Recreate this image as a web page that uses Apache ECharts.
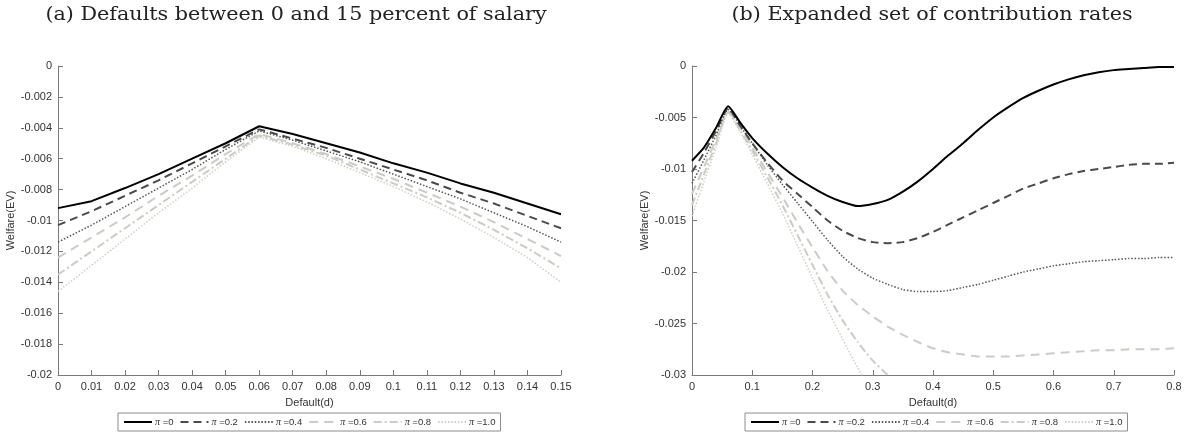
<!DOCTYPE html>
<html>
<head>
<meta charset="utf-8">
<script src="https://cdn.jsdelivr.net/npm/echarts@6/dist/echarts.min.js"></script>
<style>html,body{margin:0;padding:0;background:#fff}#c{width:1190px;height:438px}</style>
</head>
<body>
<div id="c"></div>
<script>
// ---------- data ----------
const titleA = '(a) Defaults between 0 and 15 percent of salary';
const titleB = '(b) Expanded set of contribution rates';
const seriesNames = ['π =0', 'π =0.2', 'π =0.4', 'π =0.6', 'π =0.8', 'π =1.0'];

const leftX = [0, 0.01, 0.02, 0.03, 0.04, 0.05, 0.06, 0.07, 0.08, 0.09, 0.10, 0.11, 0.12, 0.13, 0.14, 0.15];
const leftPi0  = [-0.0092, -0.00875, -0.0079, -0.0070, -0.0060, -0.0050, -0.0039, -0.0044, -0.0050, -0.0056, -0.0063, -0.0069, -0.0076, -0.0082, -0.0089, -0.0096];
const leftPi02 = [-0.0103, -0.0094, -0.0084, -0.0074, -0.0063, -0.0052, -0.0041, -0.0047, -0.0053, -0.0060, -0.0067, -0.0074, -0.0082, -0.0089, -0.0097, -0.0105];
const leftPi04 = [-0.0114, -0.0103, -0.0091, -0.0079, -0.0067, -0.0054, -0.0042, -0.0048, -0.0055, -0.0062, -0.0070, -0.0078, -0.0086, -0.0095, -0.0104, -0.0114];
const leftPi06 = [-0.0124, -0.0111, -0.0098, -0.0084, -0.0071, -0.0057, -0.0044, -0.0050, -0.0057, -0.0065, -0.0073, -0.0082, -0.0091, -0.0101, -0.0112, -0.0123];
const leftPi08 = [-0.0135, -0.0120, -0.0105, -0.0090, -0.0075, -0.0060, -0.0045, -0.0051, -0.0058, -0.0067, -0.0076, -0.0085, -0.0095, -0.0106, -0.0118, -0.0131];
const leftPi10 = [-0.0146, -0.0129, -0.0112, -0.0095, -0.0079, -0.0062, -0.0046, -0.0052, -0.0060, -0.0069, -0.0078, -0.0088, -0.0099, -0.0111, -0.0124, -0.0140];

const rightX = [0, 0.02, 0.04, 0.06, 0.08, 0.10, 0.125, 0.15, 0.175, 0.20, 0.225, 0.25, 0.275, 0.30, 0.325, 0.35, 0.375, 0.40, 0.425, 0.45, 0.475, 0.50, 0.525, 0.55, 0.575, 0.60, 0.625, 0.65, 0.675, 0.70, 0.725, 0.75, 0.775, 0.80];
const rightPi0  = [-0.0092, -0.0079, -0.0060, -0.0039, -0.0055, -0.0070, -0.0085, -0.0098, -0.0109, -0.0118, -0.0126, -0.0132, -0.0136, -0.0134, -0.0130, -0.0122, -0.0112, -0.0100, -0.0087, -0.0075, -0.0062, -0.0050, -0.0040, -0.0031, -0.0024, -0.0018, -0.0013, -0.0009, -0.0006, -0.0004, -0.0003, -0.0002, -0.0001, -0.0001];
const rightPi02 = [-0.0103, -0.0084, -0.0063, -0.0041, -0.0058, -0.0075, -0.0094, -0.0111, -0.0124, -0.0137, -0.0150, -0.0160, -0.0167, -0.0171, -0.0172, -0.0171, -0.0167, -0.0161, -0.0154, -0.0147, -0.0140, -0.0133, -0.0126, -0.0119, -0.0114, -0.0109, -0.0105, -0.0102, -0.0100, -0.0098, -0.0096, -0.0095, -0.0095, -0.0094];
const rightPi04 = [-0.0114, -0.0091, -0.0067, -0.0042, -0.0058, -0.0075, -0.0096, -0.0115, -0.0133, -0.0151, -0.0169, -0.0185, -0.0197, -0.0206, -0.0212, -0.0217, -0.0219, -0.0219, -0.0218, -0.0215, -0.0212, -0.0208, -0.0204, -0.0200, -0.0197, -0.0194, -0.0192, -0.0190, -0.0189, -0.0188, -0.0187, -0.0187, -0.0186, -0.0186];
const rightPi06 = [-0.0124, -0.0098, -0.0071, -0.0044, -0.0060, -0.0079, -0.0103, -0.0127, -0.0152, -0.0176, -0.0199, -0.0218, -0.0232, -0.0243, -0.0253, -0.0261, -0.0268, -0.0274, -0.0278, -0.0280, -0.0282, -0.0282, -0.0282, -0.0281, -0.0280, -0.0279, -0.0278, -0.0277, -0.0276, -0.0276, -0.0275, -0.0275, -0.0275, -0.0274];
const rightPi08 = [-0.0135, -0.0105, -0.0075, -0.0045, -0.0062, -0.0082, -0.0108, -0.0135, -0.0164, -0.0193, -0.0222, -0.0247, -0.0268, -0.0286, -0.0300, -0.0313, -0.0325];
const rightPi10 = [-0.0146, -0.0112, -0.0079, -0.0046, -0.0064, -0.0086, -0.0114, -0.0143, -0.0174, -0.0206, -0.0237, -0.0265, -0.0293, -0.0318, -0.0340];

// ---------- styles ----------
const styles = [
  { color: '#000000', width: 2, type: 'solid' },
  { color: '#4a4a4a', width: 2, type: [8, 5] },
  { color: '#555555', width: 1.5, type: [1.5, 1.8] },
  { color: '#cdcbc2', width: 2, type: [9, 6] },
  { color: '#cdcbc2', width: 2, type: [8, 3, 2, 3] },
  { color: '#d0cec4', width: 1.5, type: [1.5, 1.8] }
];

const leftData = [leftPi0, leftPi02, leftPi04, leftPi06, leftPi08, leftPi10];
const rightData = [rightPi0, rightPi02, rightPi04, rightPi06, rightPi08, rightPi10];

function pairs(xs, ys) {
  const out = [];
  for (let i = 0; i < Math.min(xs.length, ys.length); i++) out.push([xs[i], ys[i]]);
  return out;
}

const series = [];
seriesNames.forEach((n, i) => {
  series.push({ name: n, type: 'line', xAxisIndex: 0, yAxisIndex: 0, data: pairs(leftX, leftData[i]),
    showSymbol: false, symbol: 'none', lineStyle: styles[i], itemStyle: { color: styles[i].color }, clip: true, z: 10 - i });
  series.push({ name: n, type: 'line', xAxisIndex: 1, yAxisIndex: 1, data: pairs(rightX, rightData[i]), smooth: 0.2,
    showSymbol: false, symbol: 'none', lineStyle: styles[i], itemStyle: { color: styles[i].color }, clip: true, z: 10 - i });
});

const axisCommon = {
  axisLine: { show: true, onZero: false, lineStyle: { color: '#7a7a7a', width: 1 } },
  axisTick: { show: true, inside: true, length: 5, lineStyle: { color: '#7a7a7a' } },
  axisLabel: { color: '#333', fontSize: 11, fontFamily: 'Liberation Sans, Arial, sans-serif', margin: 6 },
  splitLine: { show: false },
  nameTextStyle: { color: '#333', fontSize: 11, fontFamily: 'Liberation Sans, Arial, sans-serif' }
};

function legendCfg(left) {
  return {
    data: seriesNames, left: left, top: 413, orient: 'horizontal',
    itemWidth: 28, itemHeight: 10, itemGap: 6, padding: [4, 5],
    borderColor: '#8c8c8c', borderWidth: 1, selectedMode: false,
    itemStyle: { opacity: 0 },
    formatter: name => '{p|π}' + name.slice(1),
    textStyle: { fontSize: 9.5, color: '#333', fontFamily: 'Liberation Sans, Arial, sans-serif', padding: [0, 0, 0, -2],
      rich: { p: { fontFamily: 'Liberation Serif, serif', fontStyle: 'italic', fontSize: 10, color: '#333' } } }
  };
}

const chart = echarts.init(document.getElementById('c'), null, { renderer: 'canvas' });
chart.setOption({
  animation: false,
  backgroundColor: '#fff',
  graphic: [
    { type: 'text', x: 296, y: 15, scaleX: 1.15, style: { text: titleA, textAlign: 'center', textVerticalAlign: 'middle', font: '18px "DejaVu Serif", serif', fill: '#222' } },
    { type: 'text', x: 932, y: 15, scaleX: 1.15, style: { text: titleB, textAlign: 'center', textVerticalAlign: 'middle', font: '18px "DejaVu Serif", serif', fill: '#222' } }
  ],
  legend: [legendCfg(118), legendCfg(745)],
  grid: [
    { left: 58, top: 66, width: 503, height: 309, containLabel: false },
    { left: 692, top: 66, width: 482, height: 309, containLabel: false }
  ],
  xAxis: [
    Object.assign({}, axisCommon, { type: 'value', gridIndex: 0, min: 0, max: 0.15, interval: 0.01, name: 'Default(d)', nameLocation: 'middle', nameGap: 22 }),
    Object.assign({}, axisCommon, { type: 'value', gridIndex: 1, min: 0, max: 0.8, interval: 0.1, name: 'Default(d)', nameLocation: 'middle', nameGap: 22 })
  ],
  yAxis: [
    Object.assign({}, axisCommon, { type: 'value', gridIndex: 0, min: -0.02, max: 0, interval: 0.002, name: 'Welfare(EV)', nameLocation: 'middle', nameGap: 42 }),
    Object.assign({}, axisCommon, { type: 'value', gridIndex: 1, min: -0.03, max: 0, interval: 0.005, name: 'Welfare(EV)', nameLocation: 'middle', nameGap: 42 })
  ],
  series: series
});
</script>
</body>
</html>
